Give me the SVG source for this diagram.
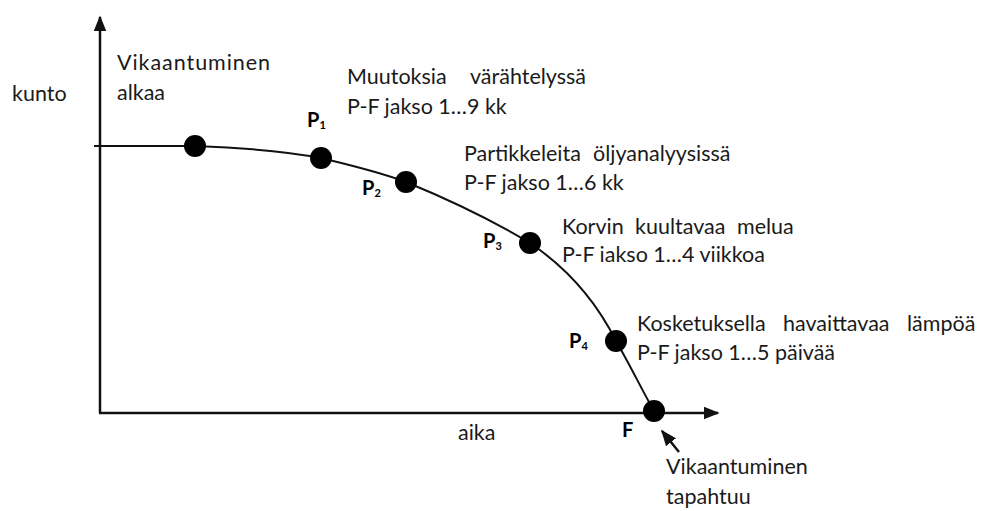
<svg xmlns="http://www.w3.org/2000/svg" width="992" height="511" viewBox="0 0 992 511">
<defs>
<style>
text{font-family:"Lato","Liberation Sans",sans-serif;font-size:21.5px;fill:#1a1a1a}
.b{font-weight:bold;font-size:20px;fill:#000}
.sub{font-size:11px}
.ax{stroke:#111;stroke-width:2.5;fill:none}
.cv{stroke:#111;stroke-width:2;fill:none}
.dot{fill:#000}
</style>
<marker id="ah2" viewBox="0 0 10 10" refX="9" refY="5" markerWidth="16" markerHeight="16" markerUnits="userSpaceOnUse" orient="auto"><path d="M0,1 L10,5 L0,9 z" fill="#111"/></marker>
</defs>
<rect width="992" height="511" fill="#fff"/>
<g id="connectors">
<line class="ax" x1="100" y1="413" x2="100" y2="17" marker-end="url(#ah2)"/>
<line class="ax" x1="99" y1="413" x2="718" y2="413" marker-end="url(#ah2)"/>
<path class="cv" d="M94,146 L195,146 C250,148 290,152 321,158 C350,165 380,172 406,182 C450,200 495,222 530,243 C570,270 598,305 616,341 C630,365 642,390 654,411"/>
<line class="ax" x1="679" y1="452" x2="662" y2="431" stroke-width="2" marker-end="url(#ah2)"/>
</g>
<g id="axes-labels">
<text x="12" y="101">kunto</text>
<text x="458" y="440">aika</text>
</g>
<g id="start">
<circle class="dot" cx="195" cy="146" r="11"/>
<text x="117" y="70" textLength="153">Vikaantuminen</text>
<text x="117" y="100">alkaa</text>
</g>
<g id="P1">
<circle class="dot" cx="321" cy="158" r="11"/>
<text x="307" y="127" class="b">P<tspan class="sub" dy="2">1</tspan></text>
<text x="347" y="84">Muutoksia<tspan x="470">värähtelyssä</tspan></text>
<text x="347" y="114">P-F jakso 1…9 kk</text>
</g>
<g id="P2">
<circle class="dot" cx="406" cy="182" r="11"/>
<text x="362" y="195" class="b">P<tspan class="sub" dy="2">2</tspan></text>
<text x="464" y="161">Partikkeleita<tspan x="593">öljyanalyysissä</tspan></text>
<text x="464" y="190">P-F jakso 1…6 kk</text>
</g>
<g id="P3">
<circle class="dot" cx="530" cy="243" r="11"/>
<text x="483" y="248" class="b">P<tspan class="sub" dy="2">3</tspan></text>
<text x="562" y="234">Korvin<tspan x="635">kuultavaa</tspan><tspan x="737">melua</tspan></text>
<text x="562" y="262">P-F iakso 1…4 viikkoa</text>
</g>
<g id="P4">
<circle class="dot" cx="616" cy="341" r="11"/>
<text x="569" y="348" class="b">P<tspan class="sub" dy="2">4</tspan></text>
<text x="637" y="331">Kosketuksella<tspan x="783">havaittavaa</tspan><tspan x="907">lämpöä</tspan></text>
<text x="637" y="360">P-F jakso 1…5 päivää</text>
</g>
<g id="F">
<circle class="dot" cx="654" cy="411" r="11"/>
<text x="622" y="437" class="b">F</text>
<text x="666" y="474">Vikaantuminen</text>
<text x="666" y="504">tapahtuu</text>
</g>
</svg>
